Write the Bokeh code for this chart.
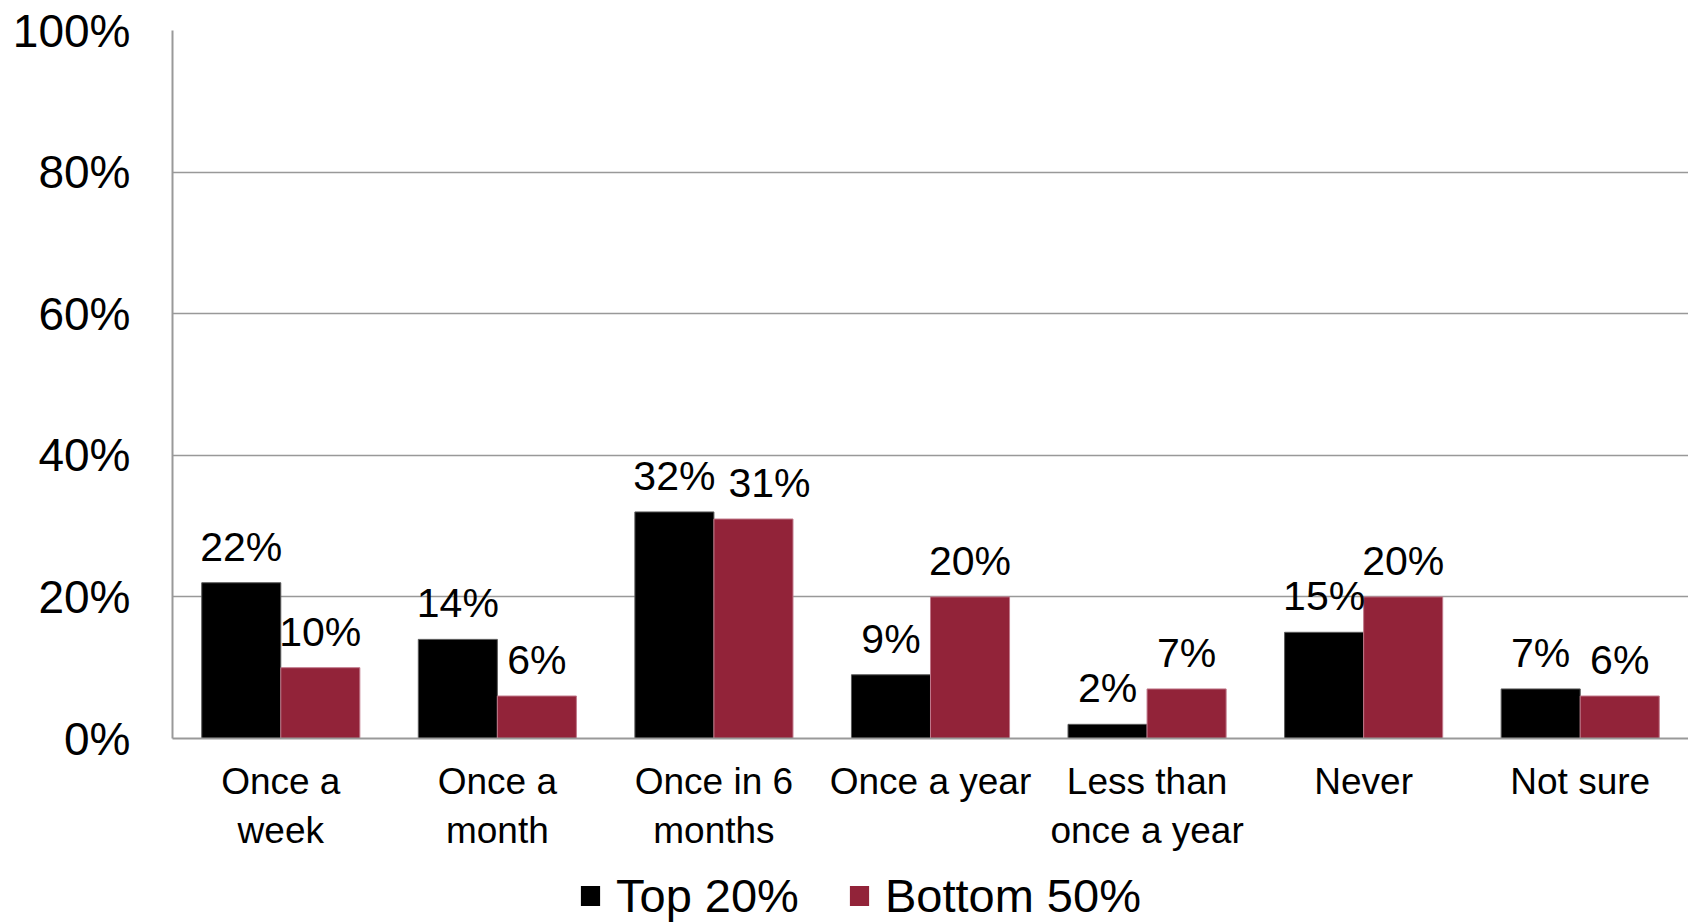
from bokeh.plotting import figure
from bokeh.layouts import column
from bokeh.models import (ColumnDataSource, FactorRange, Range1d, FixedTicker,
                          PrintfTickFormatter, LabelSet, Legend, LegendItem)
from bokeh.core.properties import value
from bokeh.transform import dodge
from bokeh.embed import file_html
from bokeh.resources import INLINE

categories = ["Once a\nweek", "Once a\nmonth", "Once in 6\nmonths", "Once a year",
              "Less than\nonce a year", "Never", "Not sure"]
series_names = ["Top 20%", "Bottom 50%"]
top20 = [22, 14, 32, 9, 2, 15, 7]
bottom50 = [10, 6, 31, 20, 7, 20, 6]
y_ticks = [0, 20, 40, 60, 80, 100]
# small horizontal nudge (px) of value labels, as in the original chart
top_label_dx = [0, 0, 0, 0, 0, 0, 0]
bot_label_dx = [0, 0, 16, 0, 0, 0, 0]

FONT = "Liberation Sans"
BLACK = "#000000"
RED = "#922339"

src = ColumnDataSource(dict(
    cat=categories,
    top=top20,
    bot=bottom50,
    top_lbl=[f"{v}%" for v in top20],
    bot_lbl=[f"{v}%" for v in bottom50],
    top_dx=top_label_dx,
    bot_dx=bot_label_dx,
))

W = 1688
H_TOTAL = 923
H_MAIN = 858
H_LEG = H_TOTAL - H_MAIN
FRAME_LEFT = 172
FRAME_TOP = 30
FRAME_BOTTOM = 738

p = figure(width=W, height=H_MAIN, x_range=FactorRange(*categories),
           y_range=Range1d(0, 100), output_backend="svg", toolbar_location=None,
           min_border_left=FRAME_LEFT, min_border_right=0, min_border_top=FRAME_TOP,
           min_border_bottom=H_MAIN - FRAME_BOTTOM)
p.outline_line_color = None
p.background_fill_color = "white"

bw = 0.365
r1 = p.vbar(x=dodge("cat", -bw / 2, range=p.x_range), top="top", width=bw,
            source=src, fill_color=BLACK, line_color="#5a5a5a", line_width=1)
r2 = p.vbar(x=dodge("cat", bw / 2, range=p.x_range), top="bot", width=bw,
            source=src, fill_color=RED, line_color="#c0788a", line_width=1)

for field, off, ycol, dx in (("top_lbl", -bw / 2, "top", "top_dx"),
                             ("bot_lbl", bw / 2, "bot", "bot_dx")):
    p.add_layout(LabelSet(x=dodge("cat", off, range=p.x_range), y=ycol, text=field,
                          source=src, x_offset=dx, y_offset=22, text_align="center",
                          text_baseline="alphabetic", text_font=value(FONT),
                          text_font_size=value("41px"), text_color="black"))

# y axis
p.yaxis.ticker = FixedTicker(ticks=y_ticks)
p.yaxis.formatter = PrintfTickFormatter(format="%d%%")
p.yaxis.major_label_text_font = FONT
p.yaxis.major_label_text_font_size = "46px"
p.yaxis.major_label_text_color = "black"
p.yaxis.major_label_standoff = 42
p.yaxis.major_tick_out = 0
p.yaxis.major_tick_in = 0
p.yaxis.minor_tick_out = 0
p.yaxis.minor_tick_in = 0
p.yaxis.axis_line_color = "#999999"
p.yaxis.axis_line_width = 2

# x axis
p.xaxis.major_label_text_font = FONT
p.xaxis.major_label_text_font_size = "37px"
p.xaxis.major_label_text_color = "black"
p.xaxis.major_label_standoff = 22
p.xaxis.major_tick_out = 0
p.xaxis.major_tick_in = 0
p.xaxis.axis_line_color = "#999999"
p.xaxis.axis_line_width = 2
p.xaxis.major_label_orientation = "horizontal"

p.xgrid.grid_line_color = None
p.ygrid.ticker = FixedTicker(ticks=y_ticks)
p.ygrid.grid_line_color = "#999999"
p.ygrid.grid_line_width = 1.5

# legend strip below the chart; its proxy bars use factors outside the strip's
# own x range, so they are never drawn, but keep their fill for the legend
pl = figure(width=W, height=H_LEG, x_range=FactorRange(factors=["legend"]),
            y_range=Range1d(0, 100), output_backend="svg", toolbar_location=None,
            min_border=0)
pl.axis.visible = False
pl.grid.visible = False
pl.outline_line_color = None
l1 = pl.vbar(x="cat", top="top", width=bw, source=src,
             fill_color=BLACK, line_color=None)
l2 = pl.vbar(x="cat", top="bot", width=bw, source=src,
             fill_color=RED, line_color=None)

legend = Legend(items=[LegendItem(label=series_names[0], renderers=[l1]),
                       LegendItem(label=series_names[1], renderers=[l2])],
                orientation="horizontal", location=(578 - FRAME_LEFT, 0),
                glyph_width=24, glyph_height=25, label_standoff=14, spacing=48,
                label_text_font=FONT, label_text_font_size="47px",
                label_text_color="black",
                label_height=30, padding=0, margin=0,
                border_line_color=None, background_fill_alpha=0)
pl.add_layout(legend, "center")

layout = column(p, pl, spacing=0)
open("out.html", "w").write(file_html(layout, INLINE))
